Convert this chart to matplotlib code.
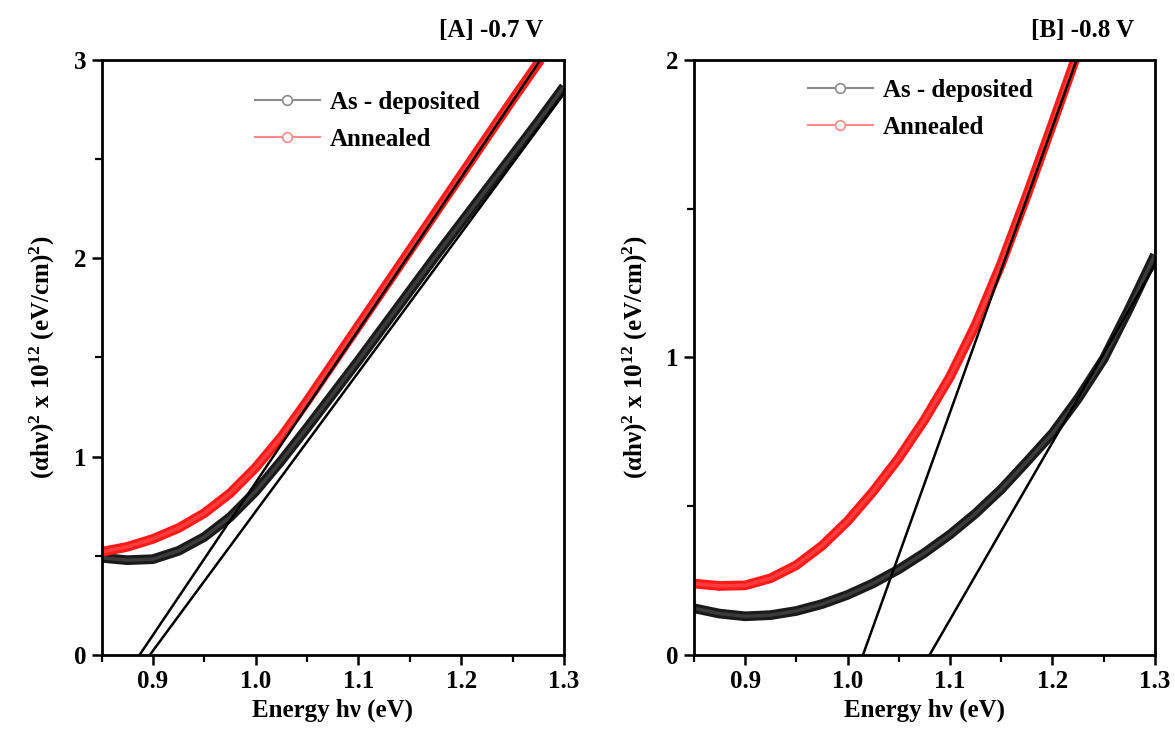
import matplotlib
matplotlib.use("Agg")
import matplotlib.pyplot as plt
from matplotlib.lines import Line2D
from matplotlib.ticker import MultipleLocator

plt.rcParams['font.family'] = ['Liberation Serif', 'DejaVu Serif']
plt.rcParams['font.weight'] = 'bold'
plt.rcParams['mathtext.fontset'] = 'custom'
plt.rcParams['mathtext.rm'] = 'Liberation Serif:bold'
plt.rcParams['mathtext.bf'] = 'Liberation Serif:bold'
plt.rcParams['mathtext.it'] = 'Liberation Serif:bold:italic'
plt.rcParams['mathtext.default'] = 'bf'

# ---- Panel A (-0.7 V) ----
a_energy_ann = [0.85, 0.875, 0.9, 0.925, 0.95, 0.975, 1.0, 1.025, 1.05, 1.075, 1.1,
                1.125, 1.15, 1.175, 1.2, 1.225, 1.25, 1.277]
a_ann = [0.52, 0.545, 0.585, 0.64, 0.715, 0.815, 0.945, 1.10, 1.28, 1.47, 1.66,
         1.85, 2.04, 2.23, 2.42, 2.61, 2.80, 3.0]
a_energy_dep = [0.85, 0.875, 0.9, 0.925, 0.95, 0.975, 1.0, 1.025, 1.05, 1.075, 1.1,
                1.125, 1.15, 1.175, 1.2, 1.225, 1.25, 1.275, 1.3]
a_dep = [0.49, 0.478, 0.483, 0.525, 0.595, 0.695, 0.825, 0.98, 1.145, 1.315, 1.485,
         1.66, 1.835, 2.01, 2.18, 2.35, 2.52, 2.69, 2.866]
a_fit_ann_x = [0.887, 1.277]
a_fit_ann_y = [0.0, 3.0]
a_fit_dep_x = [0.897, 1.30]
a_fit_dep_y = [0.0, 2.83]

# ---- Panel B (-0.8 V) ----
b_energy_ann = [0.85, 0.875, 0.9, 0.925, 0.95, 0.975, 1.0, 1.025, 1.05, 1.075, 1.1,
                1.125, 1.15, 1.175, 1.2, 1.222]
b_ann = [0.24, 0.232, 0.234, 0.258, 0.302, 0.367, 0.45, 0.55, 0.662, 0.79, 0.935,
         1.11, 1.315, 1.545, 1.785, 2.0]
b_energy_dep = [0.85, 0.875, 0.9, 0.925, 0.95, 0.975, 1.0, 1.025, 1.05, 1.075, 1.1,
                1.125, 1.15, 1.175, 1.2, 1.225, 1.25, 1.275, 1.3]
b_dep = [0.157, 0.139, 0.13, 0.134, 0.148, 0.171, 0.202, 0.241, 0.288, 0.343, 0.405,
         0.476, 0.557, 0.65, 0.745, 0.862, 0.995, 1.165, 1.345]
b_fit_ann_x = [1.015, 1.2235]
b_fit_ann_y = [0.0, 2.0]
b_fit_dep_x = [1.080, 1.30]
b_fit_dep_y = [0.0, 1.31]

titles = ["[A] -0.7 V", "[B] -0.8 V"]
series_labels = ["As - deposited", "Annealed"]
x_ticks = [0.9, 1.0, 1.1, 1.2, 1.3]
x_tick_labels = ["0.9", "1.0", "1.1", "1.2", "1.3"]
ylims = [3, 2]
xlabel = "Energy h\u03bd (eV)"
ylabel = "(\u03b1h\u03bd)$^{2}$ x 10$^{12}$ (eV/cm)$^{2}$)"

fig = plt.figure(figsize=(11.75, 7.31), dpi=100)
axA = fig.add_axes([0.0864, 0.104, 0.3936, 0.814])
axB = fig.add_axes([0.5906, 0.104, 0.3923, 0.814])

panels = [
    (axA, a_energy_dep, a_dep, a_energy_ann, a_ann, a_fit_ann_x, a_fit_ann_y, a_fit_dep_x, a_fit_dep_y),
    (axB, b_energy_dep, b_dep, b_energy_ann, b_ann, b_fit_ann_x, b_fit_ann_y, b_fit_dep_x, b_fit_dep_y),
]
legend_anchor = [(0.31, 0.965), (0.225, 0.985)]

fs = 18
for i, (ax, ed, d, ea, an, fax, fay, fdx, fdy) in enumerate(panels):
    ax.plot(ed, d, color='#1a1a1a', lw=7, solid_joinstyle='round', solid_capstyle='butt', zorder=2)
    ax.plot(ed, d, color='#8a8a8a', lw=2.5, alpha=0.3, solid_joinstyle='round', zorder=2.1)
    ax.plot(ea, an, color='#ff1a1a', lw=7, solid_joinstyle='round', solid_capstyle='butt', zorder=2)
    ax.plot(ea, an, color='#ff9090', lw=2.5, alpha=0.3, solid_joinstyle='round', zorder=2.1)
    ax.plot(fax, fay, color='black', lw=1.8, zorder=3)
    ax.plot(fdx, fdy, color='black', lw=1.8, zorder=3)

    ax.set_xlim(0.85, 1.3)
    ax.set_ylim(0, ylims[i])
    ax.set_xticks(x_ticks)
    ax.set_xticklabels(x_tick_labels)
    ax.xaxis.set_minor_locator(MultipleLocator(0.05))
    ax.yaxis.set_major_locator(MultipleLocator(1))
    ax.yaxis.set_minor_locator(MultipleLocator(0.5))
    ax.tick_params(which='major', direction='out', length=7, width=1.8, labelsize=fs,
                   top=False, right=False, pad=4)
    ax.tick_params(which='minor', direction='out', length=5, width=1.6, top=False, right=False)
    for sp in ax.spines.values():
        sp.set_linewidth(2)
    for lab in ax.get_xticklabels() + ax.get_yticklabels():
        lab.set_fontweight('bold')
    ax.set_xlabel(xlabel, fontsize=fs, fontweight='bold', labelpad=4)
    ax.set_ylabel(ylabel, fontsize=fs, fontweight='bold', labelpad=12)
    ax.text(0.955, 1.03, titles[i], transform=ax.transAxes, ha='right', va='bottom',
            fontsize=fs, fontweight='bold')

    handles = [
        Line2D([], [], color='#8c8c8c', lw=1.5, marker='o', markersize=7,
               markerfacecolor='white', markeredgecolor='#8c8c8c', markeredgewidth=1.2),
        Line2D([], [], color='#ff8a8a', lw=1.5, marker='o', markersize=7,
               markerfacecolor='white', markeredgecolor='#ff8a8a', markeredgewidth=1.2),
    ]
    ax.legend(handles, series_labels, loc='upper left',
              bbox_to_anchor=legend_anchor[i], frameon=False,
              prop={'size': fs, 'weight': 'bold'}, handlelength=2.6,
              handletextpad=0.4, labelspacing=0.55, borderaxespad=0)

fig.savefig("out.png", dpi=100)
